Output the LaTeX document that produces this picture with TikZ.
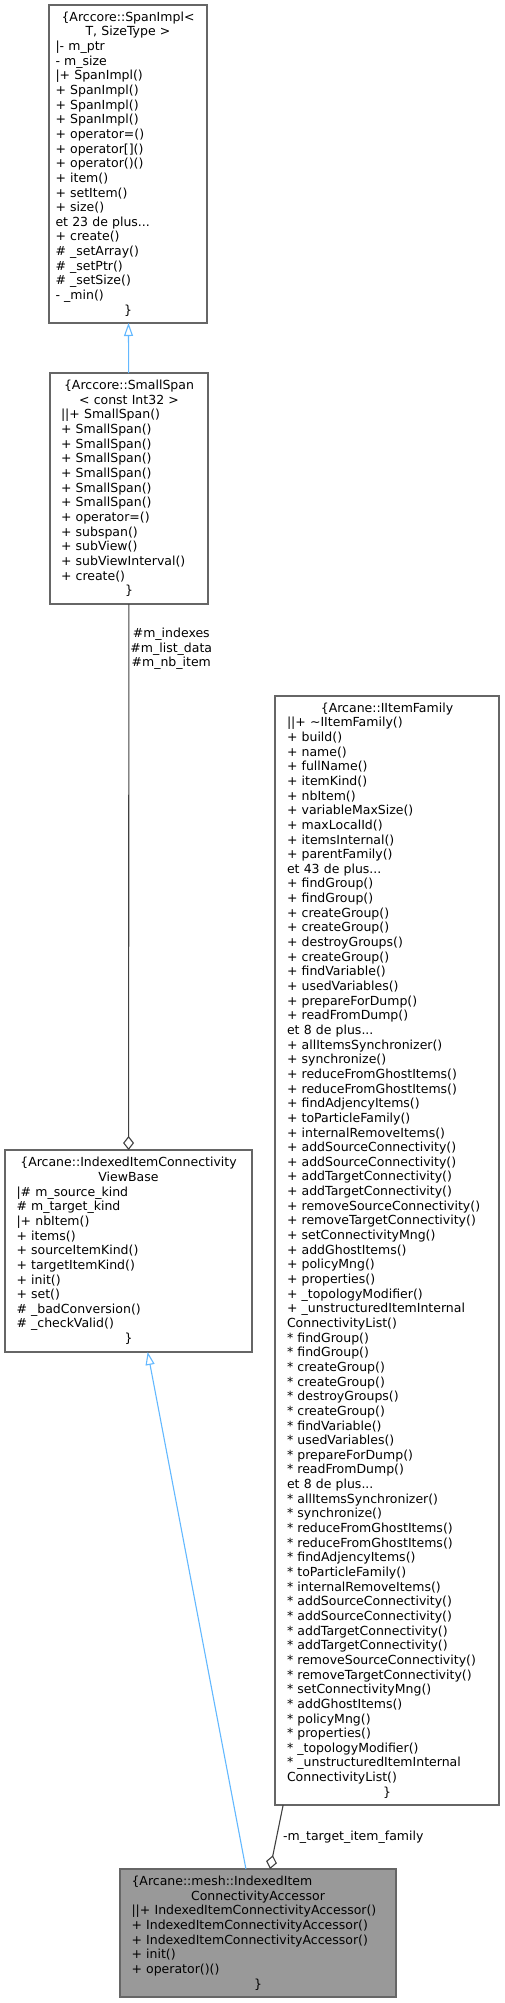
\documentclass[tikz,border=0pt]{standalone}
\usepackage{fontspec}
\setmainfont{DejaVu Sans}
\usetikzlibrary{arrows.meta}
\setlength{\parindent}{0pt}
\hyphenpenalty=10000
\definecolor{boxgray}{HTML}{666666}
\definecolor{mainfill}{HTML}{999999}
\definecolor{inhblue}{HTML}{63B8FF}
\definecolor{usegray}{HTML}{404040}
\newcommand{\clsTitle}[1]{\hfill#1\hfill\mbox{}}

\tikzset{
  cls_box/.style={draw=boxgray, fill=white, line width=1.2pt, align=left,
    outer sep=0pt, inner ysep=0pt, font=\fontsize{12.5}{14.65}\selectfont},
  cls_main/.style={cls_box, fill=mainfill},
  inherit_edge/.style={draw=inhblue, line width=1.1pt,
    -{Triangle[open, length=13pt, width=9pt]}},
  usage_edge/.style={draw=usegray, line width=1.1pt,
    -{Diamond[open, length=14pt, width=11pt]}},
  edge_label/.style={font=\fontsize{12.5}{14.65}\selectfont, align=center,
    inner sep=1pt, text=black}
}

\begin{document}
\begin{tikzpicture}[x=1pt,y=-1pt]
  \useasboundingbox (0,0) rectangle (504,2003);

  % base classes
  \node[cls_box, text width=145pt, inner xsep=6.5pt, minimum height=318pt] (span_impl) at (128,164) {%
    \clsTitle{\{Arccore::SpanImpl<}\\
    \clsTitle{T, SizeType >}\\
    |- m\_ptr\\
    - m\_size\\
    |+ SpanImpl()\\
    + SpanImpl()\\
    + SpanImpl()\\
    + SpanImpl()\\
    + operator=()\\
    + operator[]()\\
    + operator()()\\
    + item()\\
    + setItem()\\
    + size()\\
    et 23 de plus...\\
    + create()\\
    \# \_setArray()\\
    \# \_setPtr()\\
    \# \_setSize()\\
    - \_min()\\
    \clsTitle{\}}};
  \node[cls_box, text width=136pt, inner xsep=11pt, minimum height=231pt] (small_span) at (129,488.5) {%
    \clsTitle{\{Arccore::SmallSpan}\\
    \clsTitle{< const Int32 >}\\
    ||+ SmallSpan()\\
    + SmallSpan()\\
    + SmallSpan()\\
    + SmallSpan()\\
    + SmallSpan()\\
    + SmallSpan()\\
    + SmallSpan()\\
    + operator=()\\
    + subspan()\\
    + subView()\\
    + subViewInterval()\\
    + create()\\
    \clsTitle{\}}};
  \node[cls_box, text width=224pt, inner xsep=11.5pt, minimum height=202pt] (view_base) at (128.5,1251) {%
    \clsTitle{\{Arcane::IndexedItemConnectivity}\\
    \clsTitle{ViewBase}\\
    |\# m\_source\_kind\\
    \# m\_target\_kind\\
    |+ nbItem()\\
    + items()\\
    + sourceItemKind()\\
    + targetItemKind()\\
    + init()\\
    + set()\\
    \# \_badConversion()\\
    \# \_checkValid()\\
    \clsTitle{\}}};

  % item family interface
  \node[cls_box, text width=200pt, inner xsep=12pt, minimum height=1109pt] (item_family) at (387,1250.5) {%
    \clsTitle{\{Arcane::IItemFamily}\\
    ||+ \textasciitilde IItemFamily()\\
    + build()\\
    + name()\\
    + fullName()\\
    + itemKind()\\
    + nbItem()\\
    + variableMaxSize()\\
    + maxLocalId()\\
    + itemsInternal()\\
    + parentFamily()\\
    et 43 de plus...\\
    + findGroup()\\
    + findGroup()\\
    + createGroup()\\
    + createGroup()\\
    + destroyGroups()\\
    + createGroup()\\
    + findVariable()\\
    + usedVariables()\\
    + prepareForDump()\\
    + readFromDump()\\
    et 8 de plus...\\
    + allItemsSynchronizer()\\
    + synchronize()\\
    + reduceFromGhostItems()\\
    + reduceFromGhostItems()\\
    + findAdjencyItems()\\
    + toParticleFamily()\\
    + internalRemoveItems()\\
    + addSourceConnectivity()\\
    + addSourceConnectivity()\\
    + addTargetConnectivity()\\
    + addTargetConnectivity()\\
    + removeSourceConnectivity()\\
    + removeTargetConnectivity()\\
    + setConnectivityMng()\\
    + addGhostItems()\\
    + policyMng()\\
    + properties()\\
    + \_topologyModifier()\\
    + \_unstructuredItemInternal\\
    ConnectivityList()\\
    {}* findGroup()\\
    {}* findGroup()\\
    {}* createGroup()\\
    {}* createGroup()\\
    {}* destroyGroups()\\
    {}* createGroup()\\
    {}* findVariable()\\
    {}* usedVariables()\\
    {}* prepareForDump()\\
    {}* readFromDump()\\
    et 8 de plus...\\
    {}* allItemsSynchronizer()\\
    {}* synchronize()\\
    {}* reduceFromGhostItems()\\
    {}* reduceFromGhostItems()\\
    {}* findAdjencyItems()\\
    {}* toParticleFamily()\\
    {}* internalRemoveItems()\\
    {}* addSourceConnectivity()\\
    {}* addSourceConnectivity()\\
    {}* addTargetConnectivity()\\
    {}* addTargetConnectivity()\\
    {}* removeSourceConnectivity()\\
    {}* removeTargetConnectivity()\\
    {}* setConnectivityMng()\\
    {}* addGhostItems()\\
    {}* policyMng()\\
    {}* properties()\\
    {}* \_topologyModifier()\\
    {}* \_unstructuredItemInternal\\
    ConnectivityList()\\
    \clsTitle{\}}};

  % the documented class
  \node[cls_main, text width=253pt, inner xsep=11.5pt, minimum height=128pt] (accessor) at (258,1933) {%
    \{Arcane::mesh::IndexedItem\\
    \clsTitle{ConnectivityAccessor}\\
    ||+ IndexedItemConnectivityAccessor()\\
    + IndexedItemConnectivityAccessor()\\
    + IndexedItemConnectivityAccessor()\\
    + init()\\
    + operator()()\\
    \clsTitle{\}}};

  \draw[inherit_edge] (small_span) -- (span_impl);
  \draw[inherit_edge] (accessor) -- (view_base);
  \draw[usage_edge] (small_span) -- node[edge_label, pos=0.082, anchor=west]
    {\#m\_indexes\\\#m\_list\_data\\\#m\_nb\_item} (view_base);
  \draw[usage_edge] (item_family) -- node[edge_label, anchor=west, xshift=5pt]
    {-m\_target\_item\_family} (accessor);
\end{tikzpicture}
\end{document}
